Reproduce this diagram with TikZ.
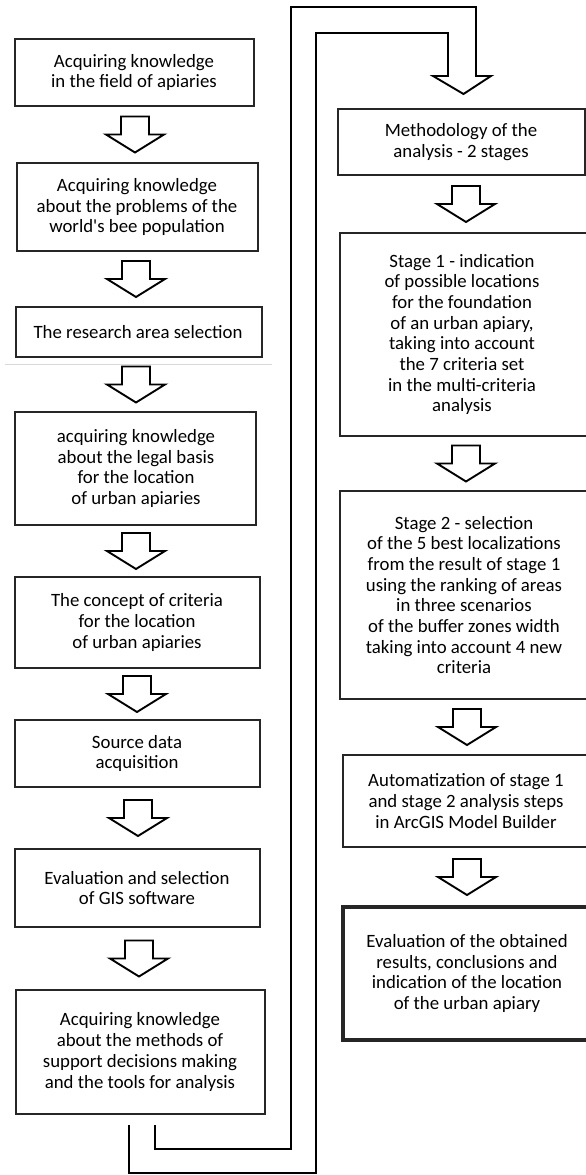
\documentclass[tikz,border=0pt]{standalone}
\usepackage{fontspec}
\setmainfont{Carlito}
\usetikzlibrary{calc}
\tikzset{
  boxline/.style={draw=black!85, line width=1.8pt, fill=none, inner sep=0pt, outer sep=0pt},
  thickline/.style={boxline, line width=2.4pt},
  heavyline/.style={boxline, line width=3.4pt},
  txt/.style={align=center, inner sep=0pt, font=\fontsize{18.8}{20.7}\selectfont, text=black},
  hollow/.style={draw=black, line width=1.9pt, line join=miter, fill=white},
  conn/.style={draw=black, line width=1.9pt, line join=miter},
}
% box: name, x1, y1, x2, y2, text x, style, text
\newcommand\mybox[8]{%
  \node[#7, minimum width={#4-#2}, minimum height={#5-#3}] (#1) at ({(#2+#4)/2},{(#3+#5)/2}) {};
  \node[txt] (#1t) at ({#6},{(#3+#5)/2}) {#8};
}
% hollow arrow: name, upper node, lower node, x
\newcommand\harrow[4]{%
  \coordinate (#1m) at ($(#2.south)!0.5!(#3.north)$);
  \coordinate (#1x) at (#4,0);
  \coordinate (#1) at (#1m -| #1x);
  \draw[hollow] (#1) ++(-14,-18) -- ++(0,18) -- ++(-15,0) -- ++(29,18) -- ++(29,-18) -- ++(-15,0) -- ++(0,-18) -- cycle;
}
\begin{document}
\begin{tikzpicture}[x=1pt,y=-1pt]
\useasboundingbox (0,0) rectangle (586,1175);
\begin{scope}
\clip (0,0) rectangle (586,1175);
% left column
\mybox{b1}{15}{39}{254}{106}{134}{boxline}{Acquiring knowledge\\in the field of apiaries}
\mybox{b2}{17}{163}{258}{251}{137}{boxline}{Acquiring knowledge\\about the problems of the\\world\textquotesingle s bee population}
\mybox{b3}{16}{307}{262}{357}{138}{thickline}{The research area selection}
\mybox{b4}{15}{412}{256}{525}{136}{boxline}{acquiring knowledge\\about the legal basis\\for the location\\of urban apiaries}
\mybox{b5}{15}{577}{260}{668}{137}{boxline}{The concept of criteria\\for the location\\of urban apiaries}
\mybox{b6}{15}{720}{260}{787}{137}{boxline}{Source data\\acquisition}
\mybox{b7}{15}{849}{260}{927}{137}{boxline}{Evaluation and selection\\of GIS software}
\mybox{b8}{16}{990}{265}{1114}{140}{boxline}{Acquiring knowledge\\about the methods of\\support decisions making\\and the tools for analysis}
% right column
\mybox{m}{338}{109}{585}{175}{461}{boxline}{Methodology of the\\analysis - 2 stages}
\mybox{s1}{340}{233}{592}{436}{462}{boxline}{Stage 1 - indication\\of possible locations\\for the foundation\\of an urban apiary,\\taking into account\\the 7 criteria set\\in the multi-criteria\\analysis}
\mybox{s2}{340}{491}{592}{699}{464}{boxline}{Stage 2 - selection\\of the 5 best localizations\\from the result of stage 1\\using the ranking of areas\\in three scenarios\\of the buffer zones width\\taking into account 4 new\\criteria}
\mybox{a}{343}{755}{592}{847}{466}{boxline}{Automatization of stage 1\\and stage 2 analysis steps\\in ArcGIS Model Builder}
\mybox{e}{343}{907}{592}{1040}{467}{heavyline}{Evaluation of the obtained\\results, conclusions and\\indication of the location\\of the urban apiary}
% faint rule under the research area box
\draw[black!15, line width=0.8pt] (5,364) -- (272,364);
% arrows
\harrow{a1}{b1}{b2}{135}
\harrow{a2}{b2}{b3}{136}
\harrow{a3}{b3}{b4}{136}
\harrow{a4}{b4}{b5}{136}
\harrow{a5}{b5}{b6}{137}
\harrow{a6}{b6}{b7}{138}
\harrow{a7}{b7}{b8}{139}
\harrow{a8}{m}{s1}{466}
\harrow{a9}{s1}{s2}{466}
\harrow{a10}{s2}{a}{467}
\harrow{a11}{a}{e}{467}
% long U-shaped hollow arrow
\coordinate (us) at ($(b8.south)+(-11.5,11)$);
\coordinate (ue) at ($(b8.south)+(14.5,11)$);
\coordinate (ut) at ($(m.north)+(2,-15)$);
\draw[conn] (us) -- (129,1173) -- (316,1173) -- (316,33) -- (448,33) -- (448,76) -- (433,76)
  -- (ut) -- (491,76) -- (476,76) -- (476,7) -- (291,7) -- (291,1149) -- (155,1149) -- (ue);
\end{scope}
\end{tikzpicture}
\end{document}
